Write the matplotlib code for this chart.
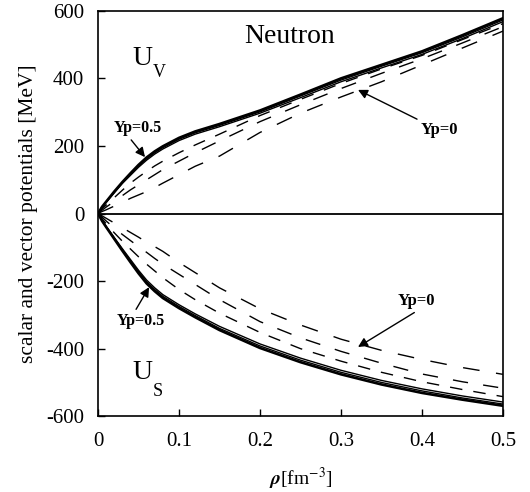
import numpy as np
import matplotlib as mpl
mpl.use('Agg')
import matplotlib.pyplot as plt

plt.rcParams['font.family'] = ['Liberation Serif', 'DejaVu Serif']
plt.rcParams['mathtext.fontset'] = 'stix'
plt.rcParams['axes.unicode_minus'] = False

# density [fm^-3]
rho = [0, 0.005, 0.01, 0.02, 0.03, 0.04, 0.05, 0.06, 0.07, 0.08, 0.1, 0.12,
       0.15, 0.2, 0.25, 0.3, 0.35, 0.4, 0.45, 0.5]

# vector potential U_V [MeV] for Yp = 0.5 ... 0
uv_05 = [0, 20, 35, 65, 93, 119, 144, 166, 184, 199, 224, 243, 265, 305, 352, 400, 440, 480, 528, 578]
uv_04 = [0, 19, 34, 63, 91, 116, 141, 162, 180, 195, 220, 239, 261, 301, 348, 395, 436, 476, 523, 573]
uv_03 = [0, 18, 33, 61, 89, 113, 137, 158, 176, 191, 216, 235, 257, 297, 343, 390, 431, 471, 518, 568]
uv_02 = [0, 14, 25, 47, 69, 90, 108, 125, 141, 155, 180, 203, 235, 290, 338, 385, 428, 468, 515, 562]
uv_01 = [0, 10, 19, 36, 53, 70, 85, 100, 115, 130, 155, 180, 215, 272, 322, 370, 415, 458, 505, 553]
uv_00 = [0, 6, 11, 22, 33, 45, 55, 65, 77, 90, 115, 140, 170, 240, 297, 345, 390, 440, 490, 540]

# scalar potential U_S [MeV] for Yp = 0.5 ... 0
us_05 = [0, -22, -40, -75, -110, -144, -177, -207, -230, -250, -280, -307, -345, -398, -440, -476, -506, -531, -551, -569]
us_04 = [0, -21, -39, -73, -107, -140, -172, -202, -225, -245, -275, -302, -340, -392, -434, -470, -500, -525, -546, -564]
us_03 = [0, -20, -38, -71, -104, -136, -168, -197, -220, -240, -270, -297, -334, -386, -428, -464, -494, -519, -540, -558]
us_02 = [0, -16, -30, -57, -82, -105, -128, -150, -170, -190, -225, -255, -295, -352, -400, -437, -470, -498, -521, -542]
us_01 = [0, -11, -22, -43, -62, -80, -98, -115, -133, -150, -180, -210, -255, -320, -368, -408, -443, -475, -498, -517]
us_00 = [0, -7, -14, -28, -42, -56, -70, -85, -98, -112, -145, -175, -220, -282, -330, -372, -405, -432, -456, -476]

xticks = [0, 0.1, 0.2, 0.3, 0.4, 0.5]
xticklabels = ['0', '0.1', '0.2', '0.3', '0.4', '0.5']
yticks = [-600, -400, -200, 0, 200, 400, 600]

fig = plt.figure(figsize=(5.3, 4.92), dpi=100)
ax = fig.add_axes([0.185, 0.154, 0.764, 0.824])

styles = [
    (uv_05, us_05, 1.9, None),
    (uv_04, us_04, 1.0, None),
    (uv_03, us_03, 1.0, None),
    (uv_02, us_02, 1.0, (9, 8)),
    (uv_01, us_01, 1.0, (11, 11)),
    (uv_00, us_00, 1.0, (12, 12)),
]
for uv, us, lw, dash in styles:
    for y in (uv, us):
        line, = ax.plot(rho, y, color='black', lw=lw)
        if dash is not None:
            line.set_dashes(dash)

ax.axhline(0, color='black', lw=1.3)

ax.set_xlim(0, 0.5)
ax.set_ylim(-600, 600)
ax.set_xticks(xticks)
ax.set_xticklabels(xticklabels)
ax.set_yticks(yticks)
ax.tick_params(direction='in', length=5, width=1, labelsize=15)
ax.tick_params(axis='x', pad=11)
ax.tick_params(axis='y', pad=10)
for s in ax.spines.values():
    s.set_linewidth(1.2)

ax.set_xlabel(r'$\boldsymbol{\rho}$[fm$^{-3}$]', fontsize=14, labelpad=11)
ax.set_ylabel('scalar and vector potentials [MeV]', fontsize=15.5, labelpad=6)

ax.text(0.236, 525, 'Neutron', fontsize=20, ha='center', va='center')
ax.text(0.043, 440, 'U', fontsize=20)
ax.text(0.067, 405, 'V', fontsize=13)
ax.text(0.043, -490, 'U', fontsize=20)
ax.text(0.068, -540, 'S', fontsize=13)

def arrow(rp):
    return dict(arrowstyle='-|>', color='black', lw=1, mutation_scale=14,
                relpos=rp, shrinkA=1, shrinkB=0)

ax.annotate('Yp=0.5', xy=(0.058, 167), xytext=(0.049, 253),
            fontsize=11.5, fontweight='bold', ha='center', va='center',
            arrowprops=arrow((0.3, 0)))
ax.annotate('Yp=0', xy=(0.321, 366), xytext=(0.422, 247),
            fontsize=12, fontweight='bold', ha='center', va='center',
            arrowprops=arrow((0.05, 1)))
ax.annotate('Yp=0.5', xy=(0.063, -218), xytext=(0.053, -319),
            fontsize=11.5, fontweight='bold', ha='center', va='center',
            arrowprops=arrow((0.35, 1)))
ax.annotate('Yp=0', xy=(0.321, -395), xytext=(0.393, -259),
            fontsize=12, fontweight='bold', ha='center', va='center',
            arrowprops=arrow((0.6, 0)))

fig.savefig('out.png', dpi=100)
